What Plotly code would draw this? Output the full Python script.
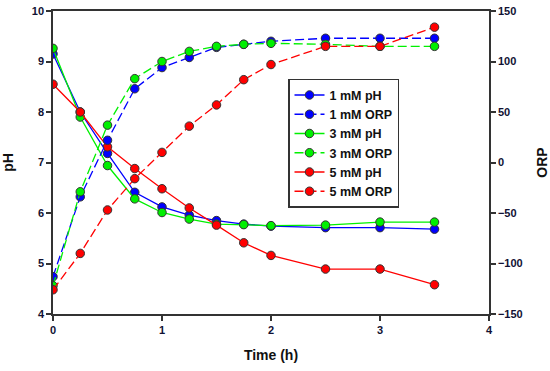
import plotly.graph_objects as go

time_h = [0, 0.25, 0.5, 0.75, 1.0, 1.25, 1.5, 1.75, 2.0, 2.5, 3.0, 3.5]

ph_1mM = [9.15, 8.0, 7.18, 6.41, 6.12, 5.96, 5.85, 5.78, 5.74, 5.71, 5.71, 5.68]
ph_3mM = [9.26, 7.9, 6.94, 6.28, 6.01, 5.88, 5.78, 5.77, 5.75, 5.76, 5.82, 5.82]
ph_5mM = [8.55, 8.0, 7.31, 6.88, 6.48, 6.10, 5.76, 5.41, 5.16, 4.89, 4.89, 4.58]

orp_1mM = [-113, -34, 22, 73, 94, 104, 114, 117, 120, 123, 123, 123]
orp_3mM = [-122, -29, 37, 83, 100, 110, 115, 117, 118, 117, 115, 115]
orp_5mM = [-126, -90, -47, -16, 10, 36, 57, 82, 97, 115, 115, 134]

ph_ticks = [4, 5, 6, 7, 8, 9, 10]
orp_ticks = [-150, -100, -50, 0, 50, 100, 150]
orp_ticklabels = ["\u2212150", "\u2212100", "\u221250", "0", "50", "100", "150"]
x_ticks = [0, 1, 2, 3, 4]

series = [
    ("1 mM pH", ph_1mM, "#0000ff", "solid", "y"),
    ("1 mM ORP", orp_1mM, "#0000ff", "dash", "y2"),
    ("3 mM pH", ph_3mM, "#00f000", "solid", "y"),
    ("3 mM ORP", orp_3mM, "#00f000", "dash", "y2"),
    ("5 mM pH", ph_5mM, "#ff0000", "solid", "y"),
    ("5 mM ORP", orp_5mM, "#ff0000", "dash", "y2"),
]

FONT = "Arial, 'Liberation Sans', sans-serif"

fig = go.Figure()
for name, vals, color, dash, axis in series:
    fig.add_trace(go.Scatter(
        x=time_h, y=vals, name=name, yaxis=axis, mode="lines+markers",
        line=dict(color=color, width=1.3, dash=dash if dash == "solid" else "9px,4px"),
        marker=dict(size=8.5, color=color, line=dict(color="#333333", width=1)),
    ))

axis_common = dict(
    showline=True, linecolor="#333333", linewidth=1.5,
    ticks="outside", ticklen=5, tickwidth=1.5, tickcolor="#333333",
    showgrid=False, zeroline=False, automargin=False,
    tickfont=dict(family=FONT, size=11, color="#111133", weight="bold"),
)
title_font = dict(family=FONT, size=14, color="#111111")

fig.update_layout(
    width=550, height=371,
    margin=dict(l=53, r=61, t=11, b=57),
    paper_bgcolor="white", plot_bgcolor="white",
    font=dict(family=FONT, color="#000000"),
    xaxis=dict(range=[0, 4], tickvals=x_ticks, mirror=True,
               title=dict(text="<b>Time (h)</b>", font=title_font),
               **axis_common),
    yaxis=dict(range=[4, 10], tickvals=ph_ticks,
               title=dict(text="<b>pH</b>", font=title_font),
               **axis_common),
    yaxis2=dict(range=[-150, 150], tickvals=orp_ticks, ticktext=orp_ticklabels,
                overlaying="y", side="right",
                title=dict(text="<b>ORP</b>", font=title_font),
                **axis_common),
    legend=dict(x=0.539, y=0.776, xanchor="left", yanchor="top",
                bgcolor="white", bordercolor="#333333", borderwidth=1.5,
                font=dict(family=FONT, size=12.5, color="#111111", weight="bold"),
                itemwidth=30, tracegroupgap=0),
    showlegend=True,
)

fig.write_html("out.html", config={"displayModeBar": False},
               post_script="document.body.style.margin='0';")
